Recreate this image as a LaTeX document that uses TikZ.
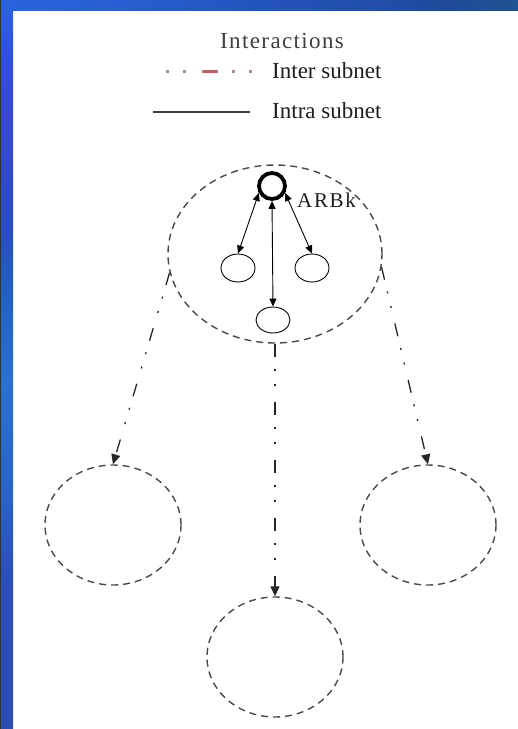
\documentclass[tikz,border=0pt]{standalone}
\usepackage{fontspec}
\setmainfont{Liberation Serif}
\usetikzlibrary{arrows.meta,shapes.geometric,calc}
\definecolor{dgray}{HTML}{4A4A4A}
\definecolor{lgtext}{HTML}{1E1E1E}
\definecolor{ttl}{HTML}{404040}
\definecolor{legred}{HTML}{C85A5A}
\definecolor{legpink}{HTML}{A89090}
\pgfdeclareverticalshading{leftstrip}{100bp}{rgb(0bp)=(0.17,0.29,0.63); rgb(35bp)=(0.17,0.31,0.72); rgb(42bp)=(0.16,0.40,0.78); rgb(49bp)=(0.16,0.44,0.82); rgb(55bp)=(0.13,0.38,0.75); rgb(59bp)=(0.16,0.31,0.75); rgb(67bp)=(0.22,0.28,0.82); rgb(71bp)=(0.19,0.31,0.88); rgb(77bp)=(0.16,0.43,0.88); rgb(86bp)=(0.16,0.50,0.94); rgb(100bp)=(0.16,0.43,0.91)}
\pgfdeclarehorizontalshading{topstrip}{100bp}{rgb(0bp)=(0.16,0.43,0.91); rgb(30bp)=(0.16,0.38,0.85); rgb(58bp)=(0.13,0.31,0.69); rgb(68bp)=(0.12,0.29,0.60); rgb(80bp)=(0.12,0.35,0.54); rgb(90bp)=(0.13,0.29,0.50); rgb(100bp)=(0.10,0.18,0.42)}
\tikzset{
  subnet/.style={ellipse, draw=dgray, line width=1.4pt, dash pattern=on 7pt off 5pt, minimum width=136pt, minimum height=120pt, inner sep=0pt},
  bigsubnet/.style={subnet, minimum width=214pt, minimum height=178pt},
  ringnode/.style={circle, draw=black, line width=3.8pt, minimum size=26pt, inner sep=0pt},
  smallnode/.style={ellipse, draw=black, line width=0.9pt, minimum width=34pt, minimum height=28pt, inner sep=0pt},
  interarrow/.style={draw=black!85, line width=1.3pt, dash pattern=on 13pt off 12pt on 2pt off 13pt on 2pt off 16pt, -{Triangle[length=10pt,width=9pt]}},
  intraarrow/.style={draw=black, line width=0.9pt, {Triangle[length=8pt,width=7pt]}-{Triangle[length=8pt,width=7pt]}},
  legtext/.style={anchor=base west, inner sep=0pt, text=lgtext, font=\fontsize{23}{27}\selectfont}
}
\begin{document}
\begin{tikzpicture}[x=1pt,y=-1pt]
\useasboundingbox (0,0) rectangle (518,729);
\fill[white] (0,0) rectangle (518,729);
\shade[shading=leftstrip] (0,0) rectangle (13,729);
\shade[shading=topstrip] (13,0) rectangle (518,10);
\fill[black!80] (0,0) rectangle (1.2,729);

% legend
\node[legtext, text=ttl, font=\fontsize{23}{27}\selectfont\addfontfeature{LetterSpace=6}] (title) at (220,48) {Interactions};
\node[legtext] (intertxt) at (272,78) {Inter subnet};
\node[legtext] (intratxt) at (272,118) {Intra subnet};
\coordinate (ia) at (166,71);
\coordinate (ib) at (253,71);
\draw[legpink, line width=3pt, dash pattern=on 3pt off 14pt on 3pt off 16pt on 16pt off 14pt on 3pt off 14pt on 3pt] (ia) -- (ib);
\draw[legred, line width=3pt] ($(ia)!0.42!(ib)$) -- ($(ia)!0.59!(ib)$);
\coordinate (ja) at (153,112);
\coordinate (jb) at (250,112);
\draw[black!75, line width=1.2pt] (ja) -- (jb);

% subnets
\node[bigsubnet] (big) at (275,254) {};
\node[subnet] (lc) at (113,525) {};
\node[subnet] (rc) at (428,525) {};
\node[subnet] (bc) at (275,657) {};

% inner nodes
\node[ringnode] (arbk) at (272,186) {};
\node[anchor=base west, inner sep=0pt, text=lgtext, font=\fontsize{21}{25}\selectfont\addfontfeature{LetterSpace=8}] (arbklabel) at (297,207) {ARBk};
\node[smallnode] (ls) at (238,268) {};
\node[smallnode] (rs) at (312,268) {};
\node[smallnode, minimum height=26pt] (bs) at (273,320) {};

\draw[intraarrow] (arbk.208) -- (ls.north);
\draw[intraarrow] (arbk.332) -- (rs.north);
\draw[intraarrow] (arbk.south) -- (bs.north);

\draw[interarrow] (big.190) -- (lc.north);
\draw[interarrow] (big.-7) -- (rc.north);
\draw[interarrow] (big.south) -- (bc.north);
\end{tikzpicture}
\end{document}
